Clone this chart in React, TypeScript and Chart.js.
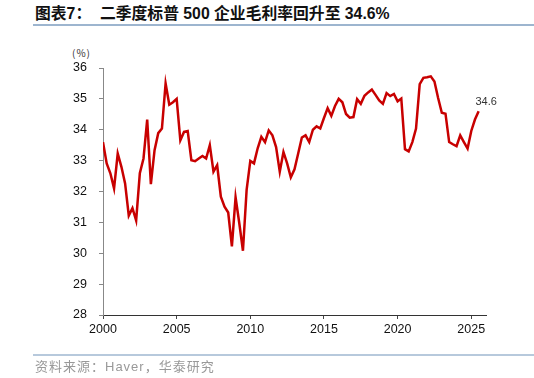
import React, { useEffect, useRef } from "react";
import { Chart, registerables } from "chart.js";

Chart.register(...registerables);

const START_YEAR = 2000;
const QUARTER_STEP = 0.25;
const margins: number[] = [
  33.60, 32.91, 32.59, 32.10, 33.23, 32.80, 32.26, 31.22, 31.46, 31.06,
  32.59, 33.07, 34.33, 32.24, 33.34, 33.89, 34.04, 35.50, 34.81, 34.89,
  35.00, 33.66, 33.93, 33.96, 33.01, 32.98, 33.07, 33.15, 33.07, 33.50,
  32.64, 32.85, 31.83, 31.51, 31.32, 30.22, 31.81, 30.98, 30.08, 32.05,
  32.99, 32.91, 33.40, 33.77, 33.60, 33.98, 33.82, 33.44, 32.64, 33.28,
  32.91, 32.46, 32.72, 33.23, 33.75, 33.82, 33.60, 34.00, 34.11, 34.04,
  34.38, 34.70, 34.45, 34.77, 35.00, 34.89, 34.51, 34.39, 34.41, 34.99,
  34.84, 35.10, 35.21, 35.30, 35.13, 34.95, 34.84, 35.19, 35.09, 35.16,
  34.92, 35.01, 33.37, 33.30, 33.60, 34.04, 35.48, 35.68, 35.70, 35.73,
  35.56, 35.03, 34.55, 34.52, 33.60, 33.53, 33.47, 33.82, 33.60, 33.39,
  33.96, 34.33, 34.60,
];
const xTicks: number[] = [2000, 2005, 2010, 2015, 2020, 2025];
const yTicks: number[] = [28, 29, 30, 31, 32, 33, 34, 35, 36];
const lastLabel = "34.6";

const TITLE = "图表7：  二季度标普 500 企业毛利率回升至 34.6%";
const SOURCE = "资料来源：Haver，华泰研究";
const FONT = "'Liberation Sans', Arial, 'Noto Sans CJK SC', sans-serif";

export default function App() {
  const canvasRef = useRef<HTMLCanvasElement | null>(null);

  useEffect(() => {
    document.body.style.margin = "0";
    const canvas = canvasRef.current;
    if (!canvas) return;
    const points = margins.map((v, i) => ({ x: START_YEAR + i * QUARTER_STEP, y: v }));

    const lastLabelPlugin = {
      id: "lastLabel",
      afterDatasetsDraw(chart: any) {
        const meta = chart.getDatasetMeta(0);
        const el = meta.data[meta.data.length - 1];
        if (!el) return;
        const ctx = chart.ctx;
        ctx.save();
        ctx.font = "11px " + FONT;
        ctx.fillStyle = "#333";
        ctx.textAlign = "center";
        ctx.textBaseline = "middle";
        ctx.fillText(lastLabel, el.x + 7.5, el.y - 9);
        ctx.restore();
      },
    };

    const chart = new Chart(canvas, {
      type: "line",
      data: {
        datasets: [
          {
            data: points,
            borderColor: "#C80000",
            borderWidth: 2.5,
            pointRadius: 0,
            tension: 0,
            fill: false,
          },
        ],
      },
      options: {
        animation: false,
        responsive: false,
        maintainAspectRatio: false,
        layout: { padding: { left: 0, top: 68, right: 48, bottom: 0 } },
        plugins: {
          legend: { display: false },
          tooltip: { enabled: false },
          title: { display: false },
        },
        scales: {
          x: {
            type: "linear",
            min: 2000,
            max: 2026,
            afterBuildTicks: (s: any) => {
              s.ticks = xTicks.map((v) => ({ value: v }));
            },
            afterFit: (s: any) => {
              s.height = 63;
            },
            ticks: {
              callback: (v: any) => String(v),
              color: "#111",
              font: { family: FONT, size: 12.5 },
              padding: 3,
              maxRotation: 0,
              autoSkip: false,
            },
            grid: {
              drawOnChartArea: false,
              drawTicks: true,
              tickLength: 4,
              color: "#444",
            },
            border: { display: true, color: "#333", width: 1 },
          },
          y: {
            type: "linear",
            min: 28,
            max: 36,
            afterBuildTicks: (s: any) => {
              s.ticks = yTicks.map((v) => ({ value: v }));
            },
            afterFit: (s: any) => {
              s.width = 103;
            },
            ticks: {
              callback: (v: any) => String(v),
              color: "#111",
              font: { family: FONT, size: 12.5 },
              padding: 12,
            },
            grid: {
              drawOnChartArea: false,
              drawTicks: true,
              tickLength: 4,
              color: "#888",
            },
            border: { display: true, color: "#888", width: 1 },
          },
        },
      },
      plugins: [lastLabelPlugin],
    });
    return () => chart.destroy();
  }, []);

  return (
    <div style={{ position: "relative", width: 534, height: 378, background: "#fff", overflow: "hidden" }}>
      <div
        style={{
          position: "absolute",
          left: 35,
          top: 4,
          fontFamily: FONT,
          fontWeight: "bold",
          fontSize: 15.8,
          color: "#111",
          whiteSpace: "pre",
          lineHeight: "20px",
        }}
      >
        {TITLE}
      </div>
      <div style={{ position: "absolute", left: 33, right: 0, top: 24, height: 1.5, background: "#9db5cf" }} />
      <div
        style={{
          position: "absolute",
          left: 72,
          top: 46,
          fontFamily: "'Noto Sans CJK SC', sans-serif",
          fontSize: 10,
          color: "#333",
          lineHeight: "14px",
          letterSpacing: "1px",
        }}
      >
        (%)
      </div>
      <canvas ref={canvasRef} width={534} height={378} style={{ position: "absolute", left: 0, top: 0, width: 534, height: 378 }} />
      <div style={{ position: "absolute", left: 33, right: 0, top: 354, height: 1.5, background: "#b7c9dc" }} />
      <div
        style={{
          position: "absolute",
          left: 35,
          top: 359,
          fontFamily: "'Liberation Sans', 'Noto Sans CJK SC', sans-serif",
          fontSize: 13,
          color: "#999",
          whiteSpace: "pre",
          lineHeight: "16px",
          letterSpacing: "1px",
        }}
      >
        {SOURCE}
      </div>
    </div>
  );
}
